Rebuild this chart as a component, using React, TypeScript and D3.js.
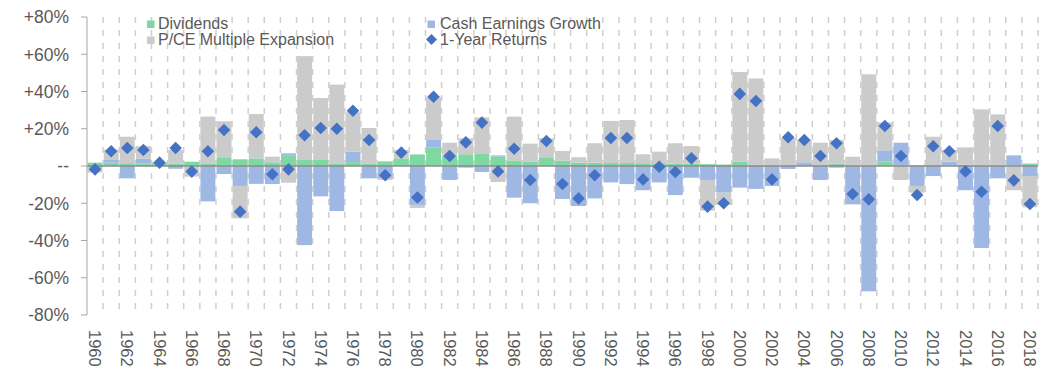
import React from "react";
import * as d3 from "d3";

const years = [
  1960, 1961, 1962, 1963, 1964, 1965, 1966, 1967, 1968, 1969,
  1970, 1971, 1972, 1973, 1974, 1975, 1976, 1977, 1978, 1979,
  1980, 1981, 1982, 1983, 1984, 1985, 1986, 1987, 1988, 1989,
  1990, 1991, 1992, 1993, 1994, 1995, 1996, 1997, 1998, 1999,
  2000, 2001, 2002, 2003, 2004, 2005, 2006, 2007, 2008, 2009,
  2010, 2011, 2012, 2013, 2014, 2015, 2016, 2017, 2018,
];

const dividends = [
  1.8, 1.8, 1.5, 1.3, 1.5, 1.2, 2.3, 1.1, 4.7, 3.6,
  4.1, 2.0, 5.8, 3.6, 3.6, 1.1, 2.1, 1.4, 2.5, 4.1,
  6.2, 10.0, 5.5, 6.3, 6.8, 5.0, 3.0, 2.3, 4.5, 2.9,
  1.8, 1.8, 1.6, 1.6, 1.5, 1.5, 1.3, 1.2, 1.0, 0.8,
  2.3, 0.6, 0.5, 0.5, 0.5, 0.5, 1.3, 0.4, 0.4, 2.3,
  0.3, 0.3, 0.5, 0.3, 0.6, 0.3, 0.3, 0.3, 1.3,
];

const cashEarningsGrowth = [
  -1.0, 1.8, -6.6, 2.6, 0.3, -1.5, -0.3, -19.0, -4.3, -10.7,
  -9.6, -9.7, 1.0, -42.5, -16.3, -24.2, 5.6, -6.6, -6.5, 0.0,
  -20.9, 4.3, -7.5, -0.9, -3.2, 0.7, -17.0, -20.0, 0.3, -17.7,
  -21.5, -17.4, -8.8, -9.7, -13.0, -8.8, -15.6, -6.3, -7.5, -14.3,
  -11.6, -12.3, -10.7, -1.6, 1.5, -7.5, -0.9, -20.6, -67.3, 6.1,
  12.2, -10.7, -5.4, 2.0, -13.0, -44.0, -6.6, 5.4, -5.4,
];

const pceMultipleExpansion = [
  -2.5, 5.2, 14.2, 6.8, 0.3, 7.4, -5.4, 25.4, 19.3, -17.4,
  23.8, 3.0, -9.0, 55.4, 32.9, 42.6, 21.1, 19.0, -1.0, 4.5,
  -1.6, 22.6, 7.0, 8.6, 19.3, -8.6, 23.5, 9.7, 10.1, 5.2,
  2.9, 10.4, 22.6, 23.1, 4.8, 6.2, 10.9, 9.5, -16.5, -6.6,
  48.2, 46.4, 3.6, 14.5, 12.0, 12.0, 12.7, 4.6, 48.8, 15.0,
  -7.5, -3.6, 15.2, 6.3, 9.4, 30.1, 27.4, -13.0, -16.8,
];

const oneYearReturns = [
  -1.8, 7.9, 9.7, 8.6, 1.8, 9.7, -3.0, 7.9, 19.3, -24.5,
  18.1, -4.4, -1.8, 16.5, 20.4, 20.0, 29.7, 14.0, -5.0, 7.2,
  -16.9, 37.2, 5.4, 12.7, 23.3, -2.9, 9.3, -7.5, 13.4, -9.7,
  -17.4, -5.0, 15.0, 15.0, -7.2, -0.4, -3.2, 4.1, -21.8, -20.0,
  38.7, 34.9, -7.2, 15.4, 14.0, 5.4, 12.2, -15.0, -17.9, 21.5,
  5.4, -15.6, 10.6, 7.9, -2.9, -13.8, 21.5, -7.7, -20.4,
];

const yTicks = [-80, -60, -40, -20, 0, 20, 40, 60, 80];

const seriesKeys = ["div", "ceg", "pce"];
const seriesNames = ["Dividends", "Cash Earnings Growth", "P/CE Multiple Expansion"];
const seriesColors = ["#7fd8a1", "#9fb8e3", "#cbcbcb"];
const returnsName = "1-Year Returns";
const returnsColor = "#4472c4";

const W = 1059;
const H = 377;
const FONT = "'Liberation Sans', Arial, sans-serif";
const TEXT = "#595959";

export default function App() {
  const left = 87;
  const right = 1038;
  const top = 17;
  const bottom = 315;

  const x = d3.scaleBand<number>().domain(years).range([left, right]).padding(0);
  const y = d3.scaleLinear().domain([-80, 80]).range([bottom, top]);
  const step = x.step();
  const barW = step - 1.2;

  const rows = years.map((yr, i) => ({
    year: yr,
    div: dividends[i],
    ceg: cashEarningsGrowth[i],
    pce: pceMultipleExpansion[i],
  }));
  const stacked = d3
    .stack<any>()
    .keys(seriesKeys)
    .offset(d3.stackOffsetDiverging)(rows);

  const fmt = (v: number) => (v === 0 ? "--" : v > 0 ? `+${v}%` : `${v}%`);
  const diamond = "M0,-6.3L6.3,0L0,6.3L-6.3,0Z";

  return (
    <svg
      width={W}
      height={H}
      style={{ position: "absolute", left: 0, top: 0, background: "#fff" }}
      fontFamily={FONT}
    >
      {years.map((yr) => {
        const gx = (x(yr) as number) + step;
        return (
          <line
            key={"g" + yr}
            x1={gx}
            x2={gx}
            y1={top}
            y2={bottom}
            stroke="#cfcfcf"
            strokeWidth={1.5}
            strokeDasharray="6,7"
          />
        );
      })}

      {stacked.map((layer, si) => (
        <g key={seriesKeys[si]} fill={seriesColors[si]}>
          {layer.map((d: any, i: number) => {
            const y0 = y(d[0]);
            const y1 = y(d[1]);
            return (
              <rect
                key={i}
                x={(x(years[i]) as number) + 0.6}
                width={barW}
                y={Math.min(y0, y1)}
                height={Math.abs(y0 - y1)}
              />
            );
          })}
        </g>
      ))}

      <line x1={left} x2={right} y1={y(0)} y2={y(0)} stroke="#8c8c8c" strokeWidth={1.5} />

      <line x1={left} x2={left} y1={top} y2={bottom} stroke="#a6a6a6" strokeWidth={1} />
      {yTicks.map((t) => (
        <g key={"t" + t}>
          <line x1={left - 6} x2={left} y1={y(t)} y2={y(t)} stroke="#a6a6a6" />
          <text
            x={69}
            y={y(t)}
            dy="0.36em"
            textAnchor="end"
            fontSize={17.5}
            fill={TEXT}
          >
            {fmt(t)}
          </text>
        </g>
      ))}

      {years
        .filter((yr) => yr % 2 === 0)
        .map((yr) => {
          const cx = (x(yr) as number) + step / 2;
          return (
            <text
              key={"x" + yr}
              transform={`translate(${cx},${330}) rotate(90)`}
              dy="0.36em"
              textAnchor="start"
              fontSize={16.5}
              fill={TEXT}
            >
              {yr}
            </text>
          );
        })}

      {oneYearReturns.map((v, i) => (
        <path
          key={"r" + i}
          d={diamond}
          transform={`translate(${(x(years[i]) as number) + step / 2},${y(v)})`}
          fill={returnsColor}
        />
      ))}

      <g fontSize={16} fill={TEXT}>
        <rect x={147} y={20.5} width={7.5} height={7.5} fill={seriesColors[0]} />
        <text x={158} y={28.5}>{seriesNames[0]}</text>
        <rect x={147} y={36.5} width={7.5} height={7.5} fill={seriesColors[2]} />
        <text x={158} y={44.5}>{seriesNames[2]}</text>
        <rect x={427.5} y={20.5} width={7.5} height={7.5} fill={seriesColors[1]} />
        <text x={440} y={28.5}>{seriesNames[1]}</text>
        <path d="M0,-5.5L5.5,0L0,5.5L-5.5,0Z" transform="translate(431.5,39.5)" fill={returnsColor} />
        <text x={440} y={44.5}>{returnsName}</text>
      </g>
    </svg>
  );
}
